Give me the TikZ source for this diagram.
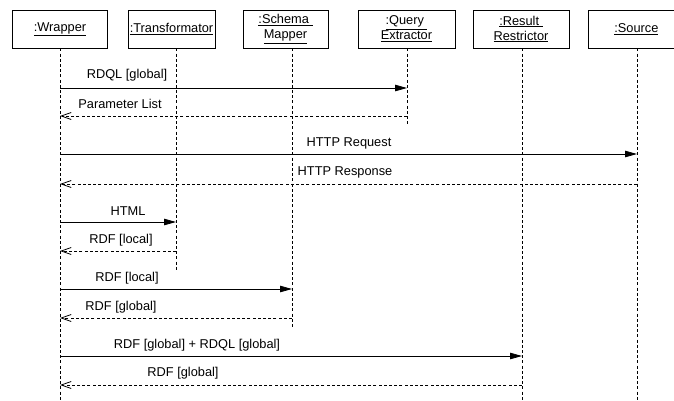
\documentclass[tikz,border=0pt]{standalone}
\usepackage{fontspec}
\setmainfont{Liberation Sans}
\usetikzlibrary{arrows.meta}
\begin{document}
\begin{tikzpicture}[x=1pt,y=-1pt,
  obj/.style={draw, line width=0.8pt, minimum height=38pt, inner sep=0pt, align=center, font=\fontsize{12.8}{15}\selectfont},
  life/.style={line width=0.7pt, dash pattern=on 3pt off 2.2pt},
  call/.style={line width=0.8pt, -{Triangle[length=12pt,width=6.5pt]}},
  ret/.style={line width=0.8pt, dash pattern=on 3pt off 2.2pt, -{Straight Barb[length=10pt,width=7pt]}},
  lbl/.style={font=\fontsize{12.8}{15}\selectfont, inner sep=0pt}]
\useasboundingbox (0,0) rectangle (674,400);
% objects
\node[obj, minimum width=95pt] (wr) at (60,29) {\underline{:Wrapper}};
\node[obj, minimum width=87pt] (tr) at (171.5,29) {\underline{:Transformator}};
\node[obj, minimum width=85pt] (sm) at (285.5,29) {\underline{:Schema\ }\\\underline{Mapper}};
\node[obj, minimum width=97pt] (qe) at (406.5,29) {\underline{:Query\ }\\\underline{Extractor}};
\node[obj, minimum width=96pt] (rr) at (521,29) {\underline{:Result\ }\\\underline{Restrictor}};
\node[obj, minimum width=98pt, anchor=west] (so) at (588,29) {\underline{:Source}\hspace*{2pt}};
% lifeline ends
\coordinate (wrE) at (60,400);
\coordinate (trE) at (176,270);
\coordinate (smE) at (292,327);
\coordinate (qeE) at (407,124);
\coordinate (rrE) at (522,400);
\coordinate (soE) at (637,400);
\draw[life] (wr.south -| wrE) -- (wrE);
\draw[life] (tr.south -| trE) -- (trE);
\draw[life] (sm.south -| smE) -- (smE);
\draw[life] (qe.south -| qeE) -- (qeE);
\draw[life] (rr.south -| rrE) -- (rrE);
\draw[life] (so.south -| soE) -- (soE);
% messages
\draw[call] (wrE |- 0,88) -- (qeE |- 0,88);
\node[lbl] (m1) at (127,75) {RDQL [global]};
\draw[ret] (qeE |- 0,116) -- (wrE |- 0,116);
\node[lbl] (m2) at (120,104) {Parameter List};
\draw[call] (wrE |- 0,154) -- (soE |- 0,154);
\node[lbl] (m3) at (349,143) {HTTP Request};
\draw[ret] (soE |- 0,184) -- (wrE |- 0,184);
\node[lbl] (m4) at (345,172) {HTTP Response};
\draw[call] (wrE |- 0,222) -- (trE |- 0,222);
\node[lbl] (m5) at (128,211) {HTML};
\draw[ret] (trE |- 0,251) -- (wrE |- 0,251);
\node[lbl] (m6) at (121,240) {RDF [local]};
\draw[call] (wrE |- 0,289) -- (smE |- 0,289);
\node[lbl] (m7) at (127,278) {RDF [local]};
\draw[ret] (smE |- 0,318) -- (wrE |- 0,318);
\node[lbl] (m8) at (121,307) {RDF [global]};
\draw[call] (wrE |- 0,356) -- (rrE |- 0,356);
\node[lbl] (m9) at (197,345) {RDF [global] + RDQL [global]};
\draw[ret] (rrE |- 0,385) -- (wrE |- 0,385);
\node[lbl] (m10) at (183,373) {RDF [global]};
\end{tikzpicture}
\end{document}
